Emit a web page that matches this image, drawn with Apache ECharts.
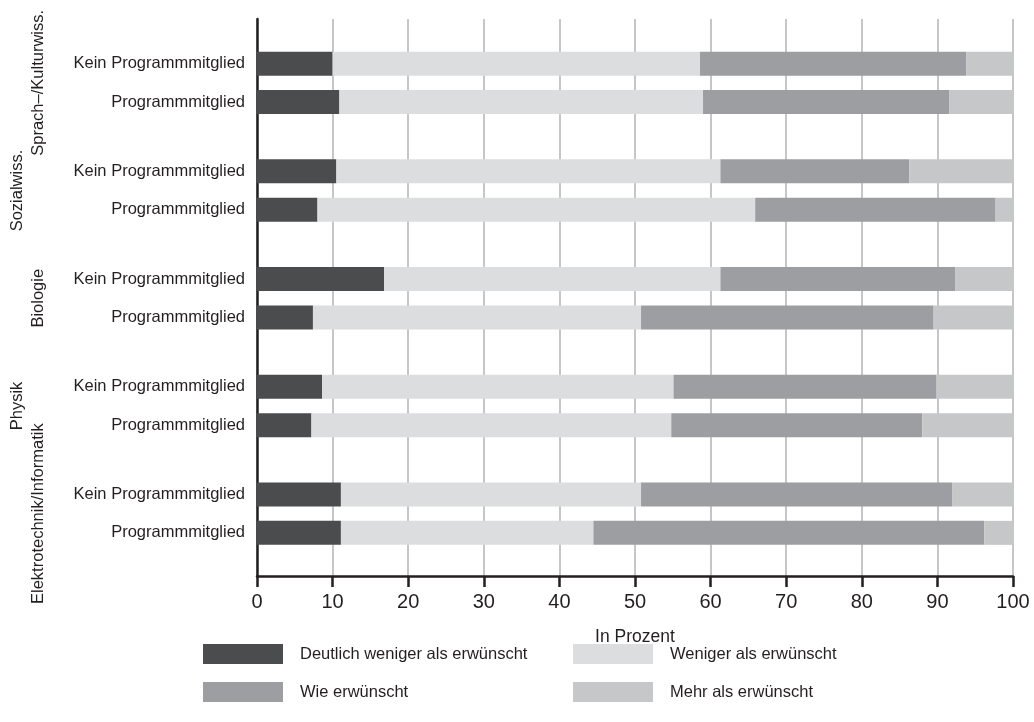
<!DOCTYPE html>
<html>
<head>
<meta charset="utf-8">
<script src="https://cdn.jsdelivr.net/npm/echarts@6/dist/echarts.min.js"></script>
<style>
html,body{margin:0;padding:0;background:#fff;}
#chart{width:1034px;height:722px;}
</style>
</head>
<body>
<div id="chart"></div>
<script>
// ---- data ----
var groups = ['Sprach–/Kulturwiss.', 'Sozialwiss.', 'Biologie', 'Physik', 'Elektrotechnik/Informatik'];
var rowLabels = ['Kein Programmmitglied', 'Programmmitglied'];
var seriesNames = ['Deutlich weniger als erwünscht', 'Weniger als erwünscht', 'Wie erwünscht', 'Mehr als erwünscht'];

var deutlichKein = [10.0, 10.5, 16.8, 8.6, 11.1];
var wenigerKein  = [48.6, 50.8, 44.5, 46.5, 39.7];
var wieKein      = [35.2, 25.0, 31.1, 34.8, 41.2];
var mehrKein     = [6.2, 13.7, 7.6, 10.1, 8.0];

var deutlichProg = [10.9, 8.0, 7.4, 7.2, 11.1];
var wenigerProg  = [48.1, 57.9, 43.4, 47.6, 33.4];
var wieProg      = [32.6, 31.8, 38.7, 33.2, 51.7];
var mehrProg     = [8.4, 2.3, 10.5, 12.0, 3.8];

var xTicks = [0, 10, 20, 30, 40, 50, 60, 70, 80, 90, 100];
var xName = 'In Prozent';

// ---- styling ----
var FONT = '"Liberation Sans", Arial, Helvetica, sans-serif';
var TXT = '#231f20';
var colors = ['#4b4c4e', '#dcdddf', '#9d9ea1', '#c6c7c9'];

var chart = echarts.init(document.getElementById('chart'));

var keinSets = [deutlichKein, wenigerKein, wieKein, mehrKein];
var progSets = [deutlichProg, wenigerProg, wieProg, mehrProg];

function makeSeries(sets, stackName, rowLabel) {
  return sets.map(function (vals, i) {
    var s = {
      name: seriesNames[i],
      type: 'bar',
      stack: stackName,
      xAxisIndex: 1,
      yAxisIndex: 1,
      barWidth: 24,
      barGap: '60%',
      data: vals,
      itemStyle: { color: colors[i] },
      emphasis: { disabled: true },
      animation: false
    };
    if (i === 0) {
      s.label = {
        show: true,
        position: 'left',
        distance: 12,
        formatter: function () { return rowLabel; },
        fontFamily: FONT,
        fontSize: 16.5,
        color: TXT
      };
    }
    return s;
  });
}

var series = makeSeries(keinSets, 'kein', rowLabels[0]).concat(makeSeries(progSets, 'prog', rowLabels[1]));

var legendPos = [
  { left: 203, top: 644 },
  { left: 573, top: 644 },
  { left: 203, top: 682 },
  { left: 573, top: 682 }
];
var legendOrder = [0, 1, 2, 3];
var legends = legendOrder.map(function (idx, k) {
  return {
    data: [seriesNames[idx]],
    left: legendPos[k].left,
    top: legendPos[k].top,
    padding: 0,
    itemWidth: 80,
    itemHeight: 20,
    icon: 'rect',
    selectedMode: false,
    textStyle: { fontFamily: FONT, fontSize: 16.5, color: TXT, padding: [0, 0, 0, 12] }
  };
});

var option = {
  animation: false,
  textStyle: { fontFamily: FONT },
  legend: legends,
  grid: [
    { left: 257, right: 21, top: 19, bottom: 146, containLabel: false },
    { left: 257, right: 21, top: 29, bottom: 154.5, containLabel: false }
  ],
  xAxis: [
    {
      gridIndex: 0,
      type: 'value',
      min: xTicks[0],
      max: xTicks[xTicks.length - 1],
      interval: 10,
      name: xName,
      nameLocation: 'middle',
      nameGap: 52,
      nameTextStyle: { fontFamily: FONT, fontSize: 17.5, color: TXT },
      axisLine: { show: true, lineStyle: { color: TXT, width: 2.5 } },
      axisTick: { show: true, length: 11, lineStyle: { color: TXT, width: 2.5 } },
      axisLabel: { margin: 16, fontFamily: FONT, fontSize: 20, color: TXT },
      splitLine: { show: true, lineStyle: { color: '#b3b3b3', width: 1.5 } }
    },
    {
      gridIndex: 1,
      type: 'value',
      min: 0,
      max: 100,
      show: false
    }
  ],
  yAxis: [
    {
      gridIndex: 0,
      type: 'value',
      min: 0,
      max: 1,
      axisLine: { show: true, lineStyle: { color: TXT, width: 2.5 } },
      axisTick: { show: false },
      axisLabel: { show: false },
      splitLine: { show: false }
    },
    {
      gridIndex: 1,
      type: 'category',
      inverse: true,
      data: groups,
      axisLine: { show: false },
      axisTick: { show: false },
      splitLine: { show: false },
      axisLabel: {
        rotate: 90,
        margin: 208,
        interval: 0,
        fontFamily: FONT,
        fontSize: 16.5,
        lineHeight: 21,
        color: TXT,
        formatter: function (v, i) {
          return (i % 2 === 1) ? (v + '\n\u00a0') : ('\u00a0\n' + v);
        }
      }
    }
  ],
  series: series
};

chart.setOption(option);
</script>
</body>
</html>
